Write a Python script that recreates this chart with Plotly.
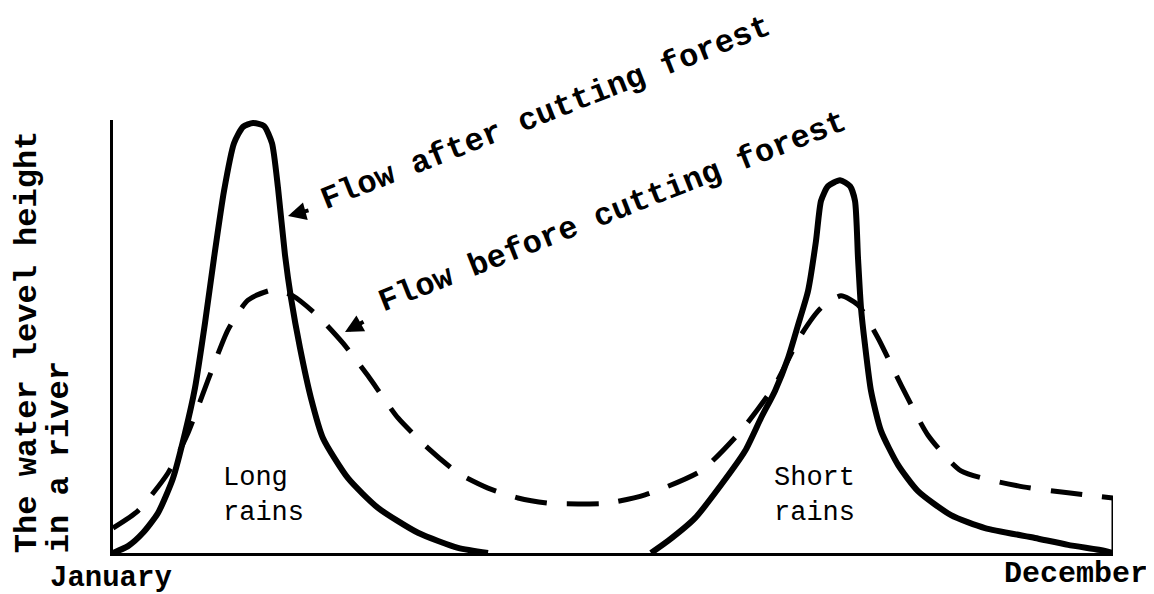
import plotly.graph_objects as go

# ---- data (x: 0 = January ... 100 = December, y: relative water level) ----
after_x = [0, 1.5, 3, 4.5, 6, 7.2, 8.2, 9.2, 10.1, 11.1, 12.1, 13, 14, 15.1, 15.9, 16.5, 17.2, 17.8, 18.7,
           19.8, 21, 23.5, 26.5, 30.5, 34.5, 37.5, None,
           53.8, 55.5, 58.2, 60.8, 63.2, 64.8, 66.2, 67.5, 68.5, 69.5, 70.3, 70.8, 71.5, 72.7, 73.7, 74.2,
           74.5, 74.8, 75.2, 75.8, 76.8, 78.5, 80.5, 83.8, 87.2, 92.2, 95.5, 99.2, 100]
after_y = [0, 1.6, 4.7, 9.3, 17.4, 27.9, 38.4, 53.5, 68.6, 84.2, 95.3, 99.1, 100, 99.3, 95.3, 84.9, 69.3, 59.3, 47.7,
           36, 26.7, 17.4, 10.5, 4.7, 1.2, 0, None,
           0, 2.8, 8.1, 15.8, 23.7, 31.4, 37.7, 45.3, 53, 60.9, 72.6, 81.9, 85.3, 86.7, 85.3, 81.9,
           68.6, 57, 48.4, 37.7, 28.4, 20.5, 14.4, 8.8, 5.8, 3.5, 1.9, 0.5, 0]

before_x = [0, 2.5, 5.5, 7.5, 9.5, 11.5, 13.5, 16, 18, 20.5, 23, 25.5, 28.5, 31.5, 34.5, 37.5, 40.5, 43.5,
            46.5, 49.5, 53.2, 58.8, 62.8, 66.2, 68.8, 70.8, 72.8, 74.5, 76.5, 78.8, 81.5, 84.8, 90.5, 95.5, 100]
before_y = [5.8, 9.8, 18.6, 27.9, 40.2, 51.9, 58.8, 61.2, 59.8, 55.1, 48.8, 41.2, 31.4, 24.4, 18.6, 15.1, 12.8, 11.6,
            11.4, 11.6, 13.5, 19.1, 28.4, 39.1, 50.7, 57, 59.8, 57.7, 50, 39.1, 27.4, 19.1, 15.6, 14, 12.8]

end_tick_x = [100, 100]
end_tick_y = [0, 12.8]

y_title_lines = ["The water level height", "in a river"]
season_labels = [("Long<br>rains", 15.0), ("Short<br>rains", 70.1)]
month_labels = ["January", "December"]
series_labels = ["Flow after cutting forest", "Flow before cutting forest"]

FONT = "Liberation Mono, Courier New, monospace"

fig = go.Figure()
fig.add_trace(go.Scatter(x=after_x, y=after_y, mode="lines", connectgaps=False,
                         line=dict(color="black", width=6, shape="spline", smoothing=0.6),
                         showlegend=False, hoverinfo="skip"))
fig.add_trace(go.Scatter(x=before_x, y=before_y, mode="lines",
                         line=dict(color="black", width=5, dash="32px,20px", shape="spline", smoothing=0.6),
                         showlegend=False, hoverinfo="skip"))
fig.add_trace(go.Scatter(x=end_tick_x, y=end_tick_y, mode="lines",
                         line=dict(color="black", width=3),
                         showlegend=False, hoverinfo="skip"))

ann = []
# y-axis title lines (rotated), bottom aligned at the origin
ann.append(dict(text=y_title_lines[0], xref="paper", yref="paper", x=(19 - 105) / 1000, y=-0.005,
                xanchor="center", yanchor="bottom", textangle=-90, showarrow=False,
                font=dict(family=FONT, size=32, color="black", weight="bold")))
ann.append(dict(text=y_title_lines[1], xref="paper", yref="paper", x=(51 - 105) / 1000, y=-0.005,
                xanchor="center", yanchor="bottom", textangle=-90, showarrow=False,
                font=dict(family=FONT, size=32, color="black", weight="bold")))
# month labels
ann.append(dict(text=month_labels[0], xref="paper", yref="paper", x=(103 - 105) / 1000, y=(545 - 570) / 433,
                xanchor="center", yanchor="middle", showarrow=False,
                font=dict(family=FONT, size=29, color="black", weight="bold")))
ann.append(dict(text=month_labels[1], xref="paper", yref="paper", x=(1068 - 105) / 1000, y=(545 - 566) / 433,
                xanchor="center", yanchor="middle", showarrow=False,
                font=dict(family=FONT, size=30, color="black", weight="bold")))
# season labels
for txt, xc in season_labels:
    ann.append(dict(text=txt, x=xc, y=(545 - 487) / 4.3, xanchor="center", yanchor="middle", showarrow=False,
                    align="left", font=dict(family=FONT, size=27, color="black")))
# rotated series labels
ann.append(dict(text=series_labels[0], xref="paper", yref="paper", x=(538 - 105) / 1000, y=(545 - 106) / 433,
                xanchor="center", yanchor="middle", textangle=-21.5, showarrow=False,
                font=dict(family=FONT, size=32, color="black", weight="bold")))
ann.append(dict(text=series_labels[1], xref="paper", yref="paper", x=(604 - 105) / 1000, y=(545 - 204) / 433,
                xanchor="center", yanchor="middle", textangle=-21.5, showarrow=False,
                font=dict(family=FONT, size=32, color="black", weight="bold")))
# small pointer arrows
ann.append(dict(text="", x=17.5, y=(545 - 208) / 4.3, ax=22, ay=-6, showarrow=True,
                arrowhead=2, arrowsize=0.9, arrowwidth=4, arrowcolor="black"))
ann.append(dict(text="", x=23.2, y=(545 - 324) / 4.3, ax=20, ay=-11, showarrow=True,
                arrowhead=2, arrowsize=0.9, arrowwidth=4, arrowcolor="black"))

fig.update_layout(
    width=1154, height=594,
    margin=dict(l=105, r=49, t=112, b=49),
    paper_bgcolor="white", plot_bgcolor="white",
    annotations=ann,
    xaxis=dict(range=[0, 100], showgrid=False, zeroline=False, showticklabels=False, ticks="",
               showline=True, linecolor="black", linewidth=3),
    yaxis=dict(range=[0, 100.7], showgrid=False, zeroline=False, showticklabels=False, ticks="",
               showline=True, linecolor="black", linewidth=3),
)

fig.write_html("out.html")
